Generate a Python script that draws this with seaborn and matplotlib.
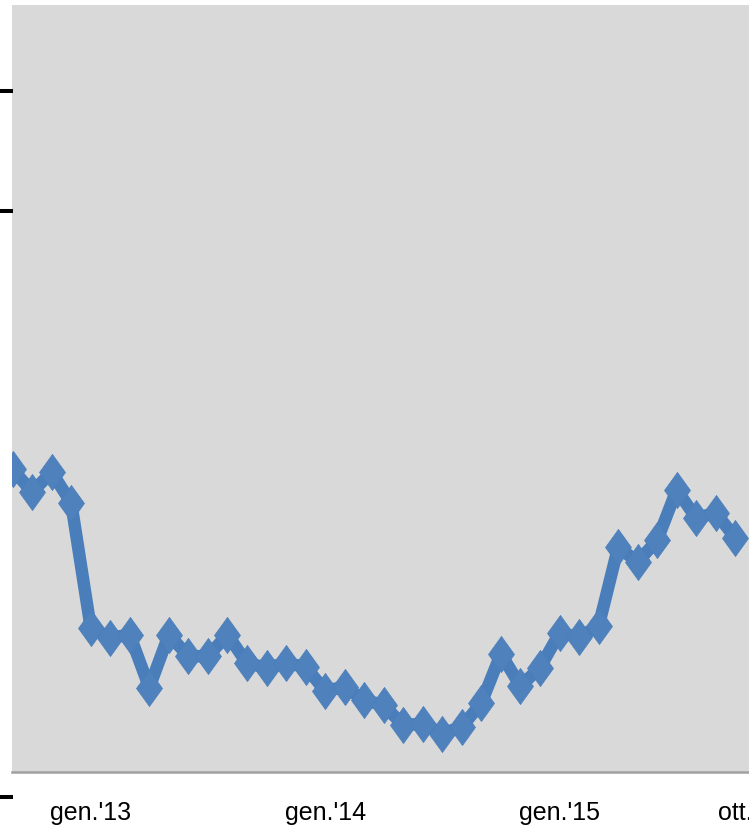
import pandas as pd
import matplotlib
matplotlib.use('Agg')
import matplotlib.pyplot as plt
import seaborn as sns

# Monthly series, Sep 2012 - Oct 2015
months = ['set.12', 'ott.12', 'nov.12', 'dic.12',
          'gen.13', 'feb.13', 'mar.13', 'apr.13', 'mag.13', 'giu.13',
          'lug.13', 'ago.13', 'set.13', 'ott.13', 'nov.13', 'dic.13',
          'gen.14', 'feb.14', 'mar.14', 'apr.14', 'mag.14', 'giu.14',
          'lug.14', 'ago.14', 'set.14', 'ott.14', 'nov.14', 'dic.14',
          'gen.15', 'feb.15', 'mar.15', 'apr.15', 'mag.15', 'giu.15',
          'lug.15', 'ago.15', 'set.15', 'ott.15']
values = [39.5, 36.5, 39.1, 35.1,
          18.8, 17.5, 17.9, 11.0, 17.9, 15.1,
          15.1, 17.9, 14.2, 13.6, 14.2, 13.7,
          10.6, 11.1, 9.4, 8.7, 6.1, 6.3,
          5.0, 5.9, 9.0, 15.4, 11.2, 13.6,
          18.1, 17.6, 19.0, 29.3, 27.4, 30.2,
          36.8, 33.1, 33.8, 30.5]
tick_months = ['gen.13', 'gen.14', 'gen.15', 'ott.15']
tick_labels = ["gen.'13", "gen.'14", "gen.'15", "ott."]

df = pd.DataFrame({'month': months, 'value': values})
df['idx'] = range(len(df))

sns.set_style('white')
plt.rcParams['font.family'] = ['Liberation Sans Narrow', 'Liberation Sans', 'DejaVu Sans']

W, H = 749, 835
fig = plt.figure(figsize=(W / 100, H / 100), dpi=100)
ax = fig.add_axes([12 / W, (H - 772) / H, 1 - 12 / W, (772 - 5) / H])
ax.set_facecolor('#d9d9d9')

# tall diamond like the Excel marker
diamond = [(0, 1), (0.72, 0), (0, -1), (-0.72, 0), (0, 1)]
sns.lineplot(data=df, x='idx', y='value', ax=ax, color='#4a7ebb',
             linewidth=9, marker=diamond, markersize=26,
             markeredgecolor='#4a7ebb', markerfacecolor='#4f81bd',
             markeredgewidth=0.5)

ax.set_xlim(-0.03, 37.7)
ax.set_ylim(0, 100)
tick_pos = [months.index(m) for m in tick_months]
ax.set_xticks(tick_pos)
ax.set_xticklabels(tick_labels, fontsize=18, color='black')
ax.tick_params(axis='x', length=0, pad=21)
ax.set_yticks([])
ax.set_xlabel('')
ax.set_ylabel('')
for s in ['top', 'right', 'left']:
    ax.spines[s].set_visible(False)
ax.spines['bottom'].set_color('#a0a0a0')
ax.spines['bottom'].set_linewidth(1.8)

# tick marks of the cropped value axis on the far left
tax = fig.add_axes([0, 0, 12 / W, 1])
tax.set_ylim(H, 0)
tax.set_xlim(0, 1)
tax.patch.set_visible(False)
for s in tax.spines.values():
    s.set_visible(False)
tax.set_xticks([])
tax.set_yticks([91, 211, 797])
tax.set_yticklabels([])
tax.tick_params(axis='y', left=True, direction='in', length=9.5,
                width=2.9, color='black')

fig.savefig('out.png', dpi=100)
